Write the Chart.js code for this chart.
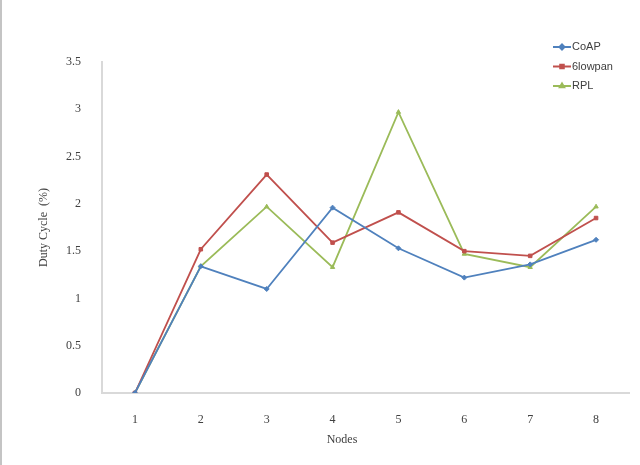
<!DOCTYPE html>
<html>
<head>
<meta charset="utf-8">
<script src="https://cdn.jsdelivr.net/npm/chart.js@4.4.1/dist/chart.umd.min.js"></script>
<style>
    body { margin: 0; background: #fff; }
    #wrap { position: relative; width: 640px; height: 465px; }
    #edge { position: absolute; left: 0; top: 0; width: 2px; height: 465px; background: #c4c4c4; }
</style>
</head>
<body>
<div id="wrap">
    <canvas id="dutyChart" width="640" height="465"></canvas>
    <div id="edge"></div>
</div>
<script>
// Dữ liệu biểu đồ
const nodes = ['1', '2', '3', '4', '5', '6', '7', '8'];
const coap = [0, 1.34, 1.10, 1.96, 1.53, 1.22, 1.36, 1.62];
const lowpan = [0, 1.52, 2.31, 1.59, 1.91, 1.50, 1.45, 1.85];
const rpl = [0, 1.34, 1.97, 1.33, 2.97, 1.47, 1.33, 1.97];
const seriesNames = ['CoAP', '6lowpan', 'RPL'];

const serif = "'Liberation Serif', 'DejaVu Serif', serif";

// Chú thích dọc ở góc trên bên phải
const cornerLegend = {
    id: 'cornerLegend',
    afterDraw(chart) {
        const ctx = chart.ctx;
        ctx.save();
        chart.data.datasets.forEach((ds, i) => {
            const y = 47 + i * 19.5;
            ctx.strokeStyle = ds.borderColor;
            ctx.lineWidth = 2;
            ctx.beginPath();
            ctx.moveTo(553, y);
            ctx.lineTo(571, y);
            ctx.stroke();
            ctx.fillStyle = ds.borderColor;
            Chart.helpers.drawPoint(ctx, { pointStyle: ds.pointStyle, radius: 2.5, borderWidth: 1 }, 562, y);
            ctx.fillStyle = '#404040';
            ctx.font = "11px 'Liberation Sans', Arial, sans-serif";
            ctx.textBaseline = 'middle';
            ctx.fillText(ds.label, 572, y);
        });
        // Tiêu đề trục X
        ctx.font = '12px ' + serif;
        ctx.fillStyle = '#404040';
        ctx.textAlign = 'center';
        ctx.fillText('Nodes', 342, 440);
        ctx.restore();
    }
};

const makeSet = (label, data, color, style) => ({
    label: label,
    data: data,
    borderColor: color,
    backgroundColor: color,
    borderWidth: 1.8,
    pointStyle: style,
    pointRadius: 2.5,
    pointBorderWidth: 1,
    tension: 0
});

new Chart(document.getElementById('dutyChart'), {
    type: 'line',
    data: {
        labels: nodes,
        datasets: [
            makeSet(seriesNames[0], coap, '#4f81bd', 'rectRot'),
            makeSet(seriesNames[1], lowpan, '#c0504d', 'rect'),
            makeSet(seriesNames[2], rpl, '#9bbb59', 'triangle')
        ]
    },
    options: {
        responsive: false,
        animation: false,
        layout: { padding: { top: 62, right: 11, left: 0, bottom: 0 } },
        plugins: {
            legend: { display: false },
            tooltip: { enabled: false }
        },
        scales: {
            x: {
                offset: true,
                grid: { display: false },
                border: { display: true, color: '#d9d9d9', width: 2 },
                ticks: { color: '#404040', padding: 12, font: { family: serif, size: 12 } },
                afterFit(scale) { scale.height = 72; }
            },
            y: {
                min: 0,
                max: 3.5,
                grid: { display: false },
                border: { display: true, color: '#d9d9d9', width: 2 },
                ticks: {
                    stepSize: 0.5,
                    color: '#404040',
                    padding: 13,
                    font: { family: serif, size: 12 },
                    callback: (v) => String(v)
                },
                title: {
                    display: true,
                    text: 'Duty Cycle  (%)',
                    color: '#404040',
                    font: { family: serif, size: 12 },
                    padding: { top: 37, bottom: 0 }
                },
                afterFit(scale) { scale.width = 102; }
            }
        }
    },
    plugins: [cornerLegend]
});
</script>
</body>
</html>
